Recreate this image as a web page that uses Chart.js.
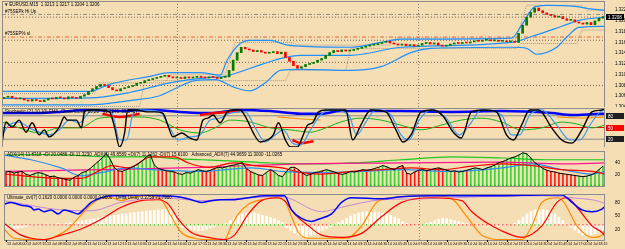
<!DOCTYPE html>
<html>
<head>
<meta charset="utf-8">
<script src="https://cdn.jsdelivr.net/npm/chart.js@4.4.1/dist/chart.umd.min.js"></script>
<style>
  html, body { margin: 0; padding: 0; background: #f5deb3; }
  #wrap { position: relative; width: 625px; height: 249px; overflow: hidden; background: #f5deb3; }
  canvas { position: absolute; left: 0; }
</style>
</head>
<body>
<div id="wrap">
  <canvas id="mainPane" width="625" height="107" style="top:0"></canvas>
  <canvas id="stochPane" width="625" height="40" style="top:107px"></canvas>
  <canvas id="adxPane" width="625" height="43" style="top:147px"></canvas>
  <canvas id="dviPane" width="625" height="59" style="top:190px"></canvas>
</div>
<script>
const wheat = "#f5deb3";
const xMin = -0.5;
const xMax = 149.5;
const sepIndexes = [43, 103];
const firstOpen = 1.3056;

const timeLabels = ["13 Jul 06:00", "13 Jul 07:15", "13 Jul 08:30", "13 Jul 09:45", "13 Jul 11:00", "13 Jul 12:15",
  "13 Jul 13:30", "13 Jul 14:45", "13 Jul 16:00", "13 Jul 17:15", "13 Jul 18:30", "13 Jul 19:45", "13 Jul 21:00",
  "13 Jul 22:15", "13 Jul 23:30", "14 Jul 00:45", "14 Jul 02:00", "14 Jul 03:15", "14 Jul 04:30", "14 Jul 05:45",
  "14 Jul 07:00", "14 Jul 08:15", "14 Jul 09:30", "14 Jul 10:45", "14 Jul 12:00", "14 Jul 13:15", "14 Jul 14:30",
  "14 Jul 15:45", "14 Jul 17:00", "14 Jul 18:15"];

const closes = [
  1.3058, 1.3060, 1.3057, 1.3055, 1.3056, 1.3053, 1.3051, 1.3054, 1.3052, 1.3050,
  1.3053, 1.3056, 1.3055, 1.3058, 1.3057, 1.3055, 1.3059, 1.3057, 1.3056, 1.3060,
  1.3063, 1.3069, 1.3074, 1.3078, 1.3082, 1.3080, 1.3076, 1.3072, 1.3070, 1.3074,
  1.3076, 1.3078, 1.3080, 1.3084, 1.3085, 1.3089, 1.3091, 1.3093, 1.3095, 1.3097,
  1.3099, 1.3096, 1.3094, 1.3095, 1.3093, 1.3096, 1.3094, 1.3095, 1.3097, 1.3095,
  1.3094, 1.3096, 1.3095, 1.3093, 1.3095, 1.3096, 1.3108, 1.3127, 1.3141, 1.3151,
  1.3148, 1.3146, 1.3143, 1.3145, 1.3142, 1.3140, 1.3141, 1.3143, 1.3139, 1.3142,
  1.3132, 1.3125, 1.3117, 1.3112, 1.3115, 1.3119, 1.3121, 1.3123, 1.3127, 1.3130,
  1.3136, 1.3141, 1.3145, 1.3143, 1.3146, 1.3144, 1.3145, 1.3147, 1.3149, 1.3151,
  1.3153, 1.3155, 1.3156, 1.3158, 1.3160, 1.3162, 1.3159, 1.3157, 1.3155, 1.3157,
  1.3154, 1.3156, 1.3153, 1.3155, 1.3158, 1.3160, 1.3157, 1.3159, 1.3155, 1.3153,
  1.3154, 1.3157, 1.3159, 1.3158, 1.3160, 1.3159, 1.3161, 1.3163, 1.3162, 1.3164,
  1.3165, 1.3163, 1.3164, 1.3162, 1.3163, 1.3161, 1.3162, 1.3160, 1.3177, 1.3192,
  1.3207, 1.3216, 1.3224, 1.3219, 1.3215, 1.3212, 1.3210, 1.3207, 1.3208, 1.3204,
  1.3201, 1.3202, 1.3198, 1.3196, 1.3194, 1.3197, 1.3193, 1.3200, 1.3205, 1.3208
];

const bandUpper = [[-0.5, 1.3069], [21.25, 1.3069], [26.25, 1.3082], [36.25, 1.3097], [41.25, 1.3104], [48.75, 1.3104],
  [53.75, 1.3099], [55.5, 1.3127], [58.75, 1.3158], [61.25, 1.3164], [66.25, 1.3164], [70, 1.3156], [73.75, 1.3153],
  [86.25, 1.3151], [93.75, 1.3160], [98.75, 1.3166], [126.25, 1.3168], [128.75, 1.3192], [132, 1.3226], [135, 1.3229],
  [142, 1.3227], [146.25, 1.3222], [149.5, 1.3220]];
const bandMiddle = [[-0.5, 1.3056], [21.25, 1.3057], [31.25, 1.3067], [41.25, 1.3085], [51.25, 1.3095], [55, 1.3097],
  [61.25, 1.3112], [68.75, 1.3130], [73.75, 1.3136], [86.25, 1.3136], [98.75, 1.3151], [126.25, 1.3160],
  [131.25, 1.3171], [138.75, 1.3190], [143, 1.3201], [149.5, 1.3207]];
const bandLower = [[-0.5, 1.3044], [21.25, 1.3044], [31.25, 1.3052], [38.75, 1.3061], [42.5, 1.3074], [47.5, 1.3089],
  [52.5, 1.3091], [57.5, 1.3076], [61.25, 1.3070], [65, 1.3085], [68.75, 1.3108], [73.75, 1.3110], [86.25, 1.3108],
  [93.75, 1.3115], [101.25, 1.3141], [106.25, 1.3149], [126.25, 1.3151], [130, 1.3149], [132.5, 1.3138],
  [137.5, 1.3151], [140, 1.3170], [143, 1.3188], [149.5, 1.3190]];
const envUpper = [[-0.5, 1.3065], [22.5, 1.3065], [23.75, 1.3085], [40, 1.3085], [41.25, 1.3100], [55, 1.3100],
  [57.5, 1.3160], [71.25, 1.3160], [73.75, 1.3155], [96.25, 1.3155], [97.5, 1.3168], [127.5, 1.3168], [130, 1.3229],
  [143.75, 1.3229], [145, 1.3220], [149.5, 1.3220]];
const envLower = [[-0.5, 1.3041], [33.75, 1.3041], [35, 1.3089], [70, 1.3089], [71.25, 1.3108], [85, 1.3108],
  [86.25, 1.3149], [127.5, 1.3149], [128.75, 1.3158], [142.5, 1.3158], [143.75, 1.3183], [149.5, 1.3183]];
const priceGrid = [1.3207, 1.3164, 1.3123, 1.3080];
const levelHigh = 1.3212;
const levelLow = 1.3170;

const stochMain = [[-0.5, 10], [0.5, 64], [2, 51], [3.75, 69], [5.5, 38], [7, 62], [8.75, 31], [10, 44], [11.25, 26],
  [13.75, 51], [15, 77], [15.75, 69], [18, 69], [19.25, 49], [20, 90], [20.75, 95], [23.75, 95], [26.25, 90],
  [27.5, 51], [28.75, 0], [30, 36], [30.75, 95], [33, 95], [35.5, 90], [37.5, 90], [39.5, 87], [40.75, 56], [42, 26],
  [44.25, 36], [46.25, 23], [48, 18], [49.5, 69], [50.75, 74], [52, 82], [53.75, 62], [55.5, 90], [57, 95],
  [58.75, 95], [60.5, 69], [62, 36], [63.75, 13], [65.5, 18], [67, 31], [68.25, 62], [70, 18], [71.25, 0], [73, 0],
  [74.25, 26], [75.5, 56], [76.75, 62], [78.25, 90], [80, 95], [85, 95], [86.75, 18], [88.75, 56], [91.25, 95],
  [95, 90], [97.5, 44], [99.25, 13], [101.25, 31], [103.75, 90], [106.75, 95], [109.25, 79], [111.75, 38],
  [113.75, 23], [116.25, 90], [119.25, 95], [122.5, 90], [125, 31], [126.75, 18], [128.75, 56], [130.75, 95],
  [133, 95], [136.25, 49], [138.75, 18], [141.25, 10], [143.75, 44], [146.25, 90], [148.75, 95], [149.5, 100]];
const stochSignal = [[-0.5, 31], [1.25, 56], [3.75, 64], [6.25, 49], [8.75, 38], [11.25, 31], [13.75, 44], [16.25, 69],
  [18.75, 62], [21.25, 90], [23.75, 95], [26.75, 90], [28.75, 18], [30.5, 18], [32, 82], [33.75, 95], [38.75, 90],
  [41.25, 49], [43.25, 18], [46.25, 26], [48.75, 31], [51.25, 69], [53.75, 74], [56.25, 87], [60, 90], [62.5, 49],
  [65, 13], [67.5, 31], [69.5, 44], [71.75, 10], [73.75, 5], [76.25, 44], [78.75, 82], [81.25, 95], [85.75, 82],
  [87.75, 31], [90, 64], [92.5, 95], [96.25, 82], [98.75, 31], [100.75, 18], [103.25, 69], [106.25, 95], [110, 74],
  [113.25, 31], [115.75, 56], [118.75, 95], [123.75, 82], [126.25, 31], [128.25, 31], [130.75, 82], [133.75, 95],
  [137.5, 56], [140.75, 18], [143.25, 18], [145.75, 56], [148.25, 90], [149.5, 95]];
const stochTrend = [[-0.5, 87], [6.25, 87], [13.75, 90], [21.25, 95], [28.75, 92], [36.25, 95], [43.75, 90], [51.25, 87],
  [58.75, 95], [66.25, 92], [71.25, 87], [73.75, 85], [78.75, 85], [83.75, 92], [98.75, 92], [111.25, 90],
  [123.75, 92], [136.25, 87], [141.25, 82], [148.75, 85], [149.5, 85]];
const stochTrendDown = [[24.5, 85], [28.75, 77], [33.75, 85], [34, null], [48.75, 82], [52.5, 87], [58.75, 92],
  [59, null], [71.75, 18], [73.75, 10], [77, 15]];
const stochSlow = [[-0.5, 64], [3.75, 49], [8.75, 36], [13.75, 49], [18.75, 49], [23.75, 74], [28.75, 77], [33.75, 77],
  [38.75, 69], [43.75, 44], [48.75, 36], [52.5, 49], [56.25, 69], [61.25, 64], [66.25, 49], [71.25, 44], [76.25, 38],
  [78.75, 44], [83.75, 64], [88.75, 74], [93.75, 69], [98.75, 56], [103.75, 44], [108.75, 56], [113.75, 69],
  [118.75, 74], [123.75, 64], [128.75, 44], [133.75, 49], [138.75, 64], [142.5, 59], [146.25, 49], [149.5, 56]];
const stochAvg = [[68, 77], [73.75, 72], [78.75, 69], [80, null], [137.5, 77], [143.75, 74], [149.5, 77]];
const stochLevels = [80, 50, 20];

const adxHist = [
  24, 25, 22, 24, 25, 20, 18, 21, 23, 22, 19, 16, 17, 14, 13, 11, 10, 15, 18, 23,
  25, 30, 36, 42, 48, 56, 46, 32, 26, 25, 28, 31, 34, 38, 43, 50, 54, 36, 30, 28,
  26, 25, 24, 21, 20, 23, 22, 25, 28, 26, 25, 27, 30, 32, 31, 33, 35, 36, 38, 40,
  30, 25, 22, 19, 18, 23, 28, 24, 18, 16, 25, 32, 32, 28, 22, 18, 20, 23, 24, 26,
  28, 26, 24, 21, 20, 22, 25, 24, 26, 28, 27, 28, 30, 32, 35, 33, 30, 28, 33, 35,
  22, 20, 24, 27, 28, 26, 28, 30, 31, 29, 27, 25, 26, 24, 25, 27, 29, 31, 30, 28,
  31, 33, 36, 40, 42, 45, 48, 50, 53, 57, 55, 48, 40, 35, 30, 27, 25, 24, 22, 21,
  20, 19, 18, 17, 16, 17, 19, 22, 28, 34
];
const adxColors = ["rrgrrgg", "ggg", "rrgrrrgrr", "gggggggg", "rrr", "gggggggg", "rrrgr", "gggggg", "rrrr",
  "ggggggg", "rrgrrgr", "ggggg", "rrr", "grggr", "gggrggggggrgggggggg", "rrrrr", "grggrrggrggr",
  "ggggggggggggg", "gggggg", "rrrrrrrr", "ggggggg"].join("");
const adxPlus = [[-0.5, 53], [7, 54], [15.5, 53], [26.25, 50], [36.25, 50], [42, 47], [48.75, 45], [57, 42.5],
  [65.5, 39.5], [73.75, 38], [78.75, 38], [86.25, 39.5], [98.75, 45], [111.25, 50], [123.75, 48], [136.25, 45],
  [149.5, 45]];
const adxLine = [[-0.5, 25], [23.75, 28], [48.75, 32], [73.75, 38], [98.75, 39.5], [123.75, 41], [138.75, 38],
  [149.5, 39.5]];
const adxMinus = [[-0.5, 20.5], [6.25, 16], [13.75, 13], [18.75, 13], [23.75, 28], [26.25, 35], [30.5, 31], [36.25, 50],
  [42, 50], [45.5, 39.5], [50.5, 32], [57, 39.5], [62, 35], [68.75, 31], [73.75, 23], [78.75, 20.5], [86.25, 25],
  [93.75, 28], [101.25, 31], [108.75, 28], [116.25, 34], [123.75, 38], [131.25, 35], [138.75, 28], [146.25, 25],
  [149.5, 20.5]];
const adxFast = [[-0.5, 53], [6.25, 45], [13.75, 31], [18.75, 17.5], [23.75, 23], [30.5, 31], [36.25, 28], [48.75, 25],
  [61.25, 31], [68.75, 25], [78.75, 23], [88.75, 25], [98.75, 28], [111.25, 25], [123.75, 31], [131.25, 38],
  [138.75, 28], [146.25, 20.5], [149.5, 25]];

const dviZero = 30;
const dviHist = [
  25, 23, 21, 22, 24, 26, 28, 31, 29, 30, 32, 31, 30, 33, 32, 34, 35, 36, 37, 39,
  41, 43, 44, 46, 48, 49, 50, 52, 53, 55, 56, 57, 58, 59, 60, 61, 62, 63, 64, 65,
  66, 62, 55, 28, 25, 22, 20, 18, 17, 18, 20, 23, 26, 29, 31, 33, 40, 46, 52, 55,
  57, 58, 57, 55, 52, 50, 47, 44, 40, 36, 24, 18, 12, 8, 5, 4, 6, 9, 13, 18,
  22, 26, 32, 36, 40, 45, 50, 54, 57, 59, 60, 60, 59, 58, 56, 55, 52, 48, 44, 38,
  34, 30, 28, 27, 30, 33, 36, 40, 43, 45, 44, 42, 40, 38, 35, 33, 31, 30, 29, 28,
  27, 27, 26, 27, 28, 29, 30, 34, 40, 48, 55, 60, 64, 66, 65, 63, 60, 55, 48, 40,
  32, 25, 18, 12, 8, 6, 7, 10, 14, 18
];
const dviZeroColors = ["gg", "rrrrrrrrrrrrrrrrrrrr", "gggggggggggggggggggggggggggggggggggggggggggggggg", "rrrrrrrrrrr",
  "gggggggggggggggggg", "rrrrr", "ggggggggg", "rrrrrrrrrrrrrrr", "ggggggggg", "rrrrrrrrrrrrr"].join("");
const dviBlue = [[-0.5, 77], [1.25, 81], [3.75, 74.5], [6.25, 70], [7, 64], [8, 66], [9.5, 60], [11.25, 64], [13, 55],
  [14.5, 64], [16.25, 60], [18, 55], [19.5, 66], [21.25, 81], [23.75, 91.5], [26.25, 96], [29.5, 96], [33.75, 98],
  [38, 96], [43, 94], [46.25, 87], [48.75, 81], [51.25, 85], [53.75, 87], [57, 87], [60.5, 91.5], [64.5, 96],
  [69.5, 96], [71.25, 64], [73.75, 45], [76.25, 38], [78, 43], [81.25, 55], [83.75, 81], [86.25, 91.5], [93.75, 89],
  [98.75, 94], [106.25, 96], [113.75, 96], [123.75, 96], [133.75, 98], [138.75, 98], [141.25, 81], [143.75, 64],
  [146.25, 60], [148.75, 66], [149.5, 72]];
const dviPurple = [[-0.5, 85], [13.75, 64], [21.25, 62], [28.75, 81], [38.75, 91.5], [48.75, 85], [56.25, 89],
  [68.75, 94], [78.75, 60], [83.75, 70], [93.75, 87], [103.75, 89], [118.75, 94], [133.75, 96], [141.25, 91.5],
  [148.75, 81], [149.5, 77]];
const dviRed = [[-0.5, 34], [3.75, 7], [6.25, 0], [9.5, -3], [13.75, 7], [18.75, 21], [23.75, 43], [28.75, 70],
  [33.75, 85], [38, 87], [40.5, 77], [43, 43], [46.25, 13], [50.5, 2], [54.5, -3], [57, 7], [60.5, 55], [63.75, 85],
  [68, 91.5], [69.5, 85], [72, 55], [75.5, 28], [78.75, 7], [83.75, 2], [88.75, 11], [93.75, 49], [98.75, 81],
  [106.25, 91.5], [113.75, 85], [116.25, 60], [121.25, 28], [126.25, 7], [128.75, 2], [133.75, 28], [137.5, 81],
  [140, 91.5], [142.5, 70], [146.25, 28], [148.75, 13], [149.5, 4.5]];
const dviOrange = [[-0.5, 21], [2, 0], [6.25, -3], [10, -3], [13, 7], [15.5, 21], [18, 45], [20.5, 70], [23, 87],
  [26.25, 91.5], [28.75, 85], [31.25, 91.5], [35.5, 96], [38.75, 87], [41.25, 49], [43.75, 13], [47, 0], [50.5, -3],
  [54.5, -3], [56.25, 28], [58, 55], [60.5, 77], [63.75, 87], [67, 91.5], [69.5, 85], [71.25, 49], [73, 13],
  [75.5, 0], [78.75, 0], [85, 0], [88.75, 28], [92.5, 81], [96.25, 91.5], [106.25, 96], [111.25, 89], [115, 49],
  [118.75, 7], [123.75, -3], [128.75, -3], [131.25, 28], [133.75, 81], [137.5, 91.5], [139.25, 81], [142.5, 28],
  [146.25, 2], [148.75, 7], [149.5, 21]];

Chart.defaults.font.family = "'Liberation Sans', Arial, sans-serif";
Chart.defaults.color = "#000";

function pts(pairs) {
  return pairs.map(([x, y]) => ({ x, y }));
}

function lineSet(pairs, color, width, extra) {
  return Object.assign({
    type: "line",
    data: pts(pairs),
    borderColor: color,
    borderWidth: width,
    pointRadius: 0,
    fill: false,
    cubicInterpolationMode: "monotone",
    spanGaps: false,
    order: 2
  }, extra || {});
}

function levelSet(value, color, dash, width) {
  return lineSet([[xMin, value], [xMax, value]], color, width || 1, { borderDash: dash || [], order: 9 });
}

const paneFrame = {
  id: "paneFrame",
  beforeDraw(chart) {
    const ctx = chart.ctx;
    ctx.save();
    ctx.fillStyle = wheat;
    ctx.fillRect(0, 0, chart.width, chart.height);
    ctx.restore();
  },
  beforeDatasetsDraw(chart) {
    const { ctx, chartArea: a, scales } = chart;
    ctx.save();
    ctx.strokeStyle = "#8a7f6e";
    ctx.lineWidth = 1;
    ctx.setLineDash([1, 2]);
    sepIndexes.forEach((i) => {
      const x = Math.round(scales.x.getPixelForValue(i)) + 0.5;
      ctx.beginPath();
      ctx.moveTo(x, a.top);
      ctx.lineTo(x, a.bottom);
      ctx.stroke();
    });
    ctx.restore();
  },
  afterDraw(chart, args, opts) {
    const { ctx, chartArea: a, scales } = chart;
    ctx.save();
    ctx.strokeStyle = "#8c8c8c";
    ctx.lineWidth = 1;
    ctx.strokeRect(a.left + 0.5, a.top + 0.5, a.right - a.left - 1, a.bottom - a.top);
    ctx.font = "4.5px 'Liberation Sans', Arial, sans-serif";
    ctx.textBaseline = "middle";
    (opts.notes || []).forEach((n) => {
      ctx.fillStyle = n.color || "#000";
      ctx.fillText(n.text, a.left + 3, n.value === undefined ? a.top + 4 : scales.y.getPixelForValue(n.value) - 3);
    });
    (opts.boxes || []).forEach((b) => {
      const y = Math.round(scales.y.getPixelForValue(b.value));
      ctx.fillStyle = b.bg;
      ctx.fillRect(a.right + 1, y - 3, 18, 6);
      ctx.fillStyle = b.fg;
      ctx.fillText(b.text, a.right + 3, y + 0.5);
    });
    if (opts.timeAxis) {
      ctx.fillStyle = "#000";
      ctx.textBaseline = "top";
      ctx.font = "3.6px 'Liberation Sans', Arial, sans-serif";
      timeLabels.forEach((t, i) => {
        const x = scales.x.getPixelForValue(i * 5);
        ctx.fillRect(Math.round(x), a.bottom, 1, 2);
        ctx.fillText(t, x + 1, a.bottom + 2.5);
      });
    }
    ctx.restore();
  }
};

function yAxis(min, max, extra) {
  return Object.assign({
    position: "right",
    min,
    max,
    grid: { display: false },
    border: { display: false },
    ticks: { font: { size: 4.5, lineHeight: 1 }, color: "#000", padding: 2 },
    afterFit(s) {
      s.width = 20;
      s.paddingTop = 0;
      s.paddingBottom = 0;
    }
  }, extra || {});
}

function xAxis() {
  return {
    type: "linear",
    min: xMin,
    max: xMax,
    offset: false,
    display: false,
    grid: { display: false, offset: false }
  };
}

function baseOptions(scales, padding, paneOpts) {
  return {
    responsive: false,
    animation: false,
    devicePixelRatio: 1,
    layout: { padding },
    scales,
    plugins: {
      legend: { display: false },
      tooltip: { enabled: false },
      paneFrame: paneOpts
    }
  };
}

function fixedTicks(values) {
  return (s) => {
    s.ticks = values.map((v) => ({ value: v }));
  };
}

const opens = closes.map((c, i) => (i === 0 ? firstOpen : closes[i - 1]));
const candleColors = closes.map((c, i) => (c >= opens[i] ? "#007a00" : "#ff0000"));
const lastClose = closes[closes.length - 1];

new Chart(document.getElementById("mainPane"), {
  type: "bar",
  data: {
    datasets: [
      {
        type: "bar",
        data: closes.map((c, i) => ({ x: i, y: [opens[i], c] })),
        backgroundColor: candleColors,
        barThickness: 2,
        minBarLength: 1,
        grouped: false,
        order: 1
      },
      lineSet(bandUpper, "#1e90ff", 1.2),
      lineSet(bandMiddle, "#1e90ff", 1.2),
      lineSet(bandLower, "#1e90ff", 1.2),
      lineSet(envUpper, "#a49a8c", 1, { borderDash: [1, 1], cubicInterpolationMode: "default", tension: 0, order: 3 }),
      lineSet(envLower, "#a49a8c", 1, { borderDash: [1, 1], cubicInterpolationMode: "default", tension: 0, order: 3 }),
      levelSet(levelHigh, "#8f8f8f", [4, 2, 1, 2]),
      levelSet(levelLow, "#e8603c", [4, 2, 1, 2]),
      ...priceGrid.map((v) => levelSet(v, "#6f6453", [1, 2]))
    ]
  },
  options: baseOptions({
    x: xAxis(),
    y: yAxis(1.3040, 1.3237, {
      ticks: {
        font: { size: 4.5, lineHeight: 1 },
        color: "#000",
        padding: 2,
        stepSize: 0.002,
        includeBounds: false,
        callback: (v) => v.toFixed(4)
      }
    })
  }, { left: 2, top: 1, right: 0, bottom: 0 }, {
    notes: [
      { text: "\u25BE EURUSD,M15  1.3213 1.3217 1.3204 1.3206" },
      { text: "#75SEPk Hi Up", value: levelHigh },
      { text: "#75SEP% sl", value: levelLow, color: "#000" }
    ],
    boxes: [{ value: lastClose, bg: "#000", fg: "#fff", text: lastClose.toFixed(4) }]
  }),
  plugins: [paneFrame]
});

new Chart(document.getElementById("stochPane"), {
  type: "line",
  data: {
    datasets: [
      lineSet(stochMain, "#000000", 1.4, { order: 1 }),
      lineSet(stochSignal, "#3f9cf0", 1.2, { order: 2 }),
      lineSet(stochTrendDown, "#ff0000", 2.5, { order: 3 }),
      lineSet(stochTrend, "#0000ff", 2.5, { order: 4 }),
      lineSet(stochSlow, "#1fb01f", 1, { order: 5 }),
      lineSet(stochAvg, "#ff8c00", 1, { order: 5 }),
      levelSet(stochLevels[0], "#8c8c8c"),
      levelSet(stochLevels[1], "#ff0000"),
      levelSet(stochLevels[2], "#8c8c8c")
    ]
  },
  options: baseOptions({
    x: xAxis(),
    y: yAxis(0, 100, { afterBuildTicks: fixedTicks([]) })
  }, { left: 2, top: 1, right: 0, bottom: 0 }, {
    notes: [{ text: "Stochastic (21,10,10) EMA, Close/Close, 80,20   41.1246  89.3417" }],
    boxes: [
      { value: 80, bg: "#202020", fg: "#fff", text: "80" },
      { value: 50, bg: "#ff0000", fg: "#fff", text: "50" },
      { value: 20, bg: "#202020", fg: "#fff", text: "20" }
    ]
  }),
  plugins: [paneFrame]
});

new Chart(document.getElementById("adxPane"), {
  type: "bar",
  data: {
    datasets: [
      lineSet(adxHist.map((v, i) => [i, v]), "#000000", 1, { cubicInterpolationMode: "default", tension: 0, order: 1 }),
      {
        type: "line",
        data: adxColors.split("").map((c, i) => ({ x: i, y: 1.2 })),
        showLine: false,
        pointStyle: "rect",
        pointRadius: 1,
        pointBorderWidth: 0,
        pointBackgroundColor: adxColors.split("").map((c) => (c === "g" ? "#14c814" : "#ff0000")),
        order: 1
      },
      lineSet(adxMinus, "#ff0000", 1.2, { order: 2 }),
      lineSet(adxFast, "#2f8ff0", 1.2, { order: 2 }),
      lineSet(adxLine, "#ff1493", 1.2, { order: 3 }),
      lineSet(adxPlus, "#1ec81e", 1.2, { order: 3 }),
      {
        type: "bar",
        data: adxHist.map((v, i) => ({ x: i, y: v })),
        backgroundColor: adxColors.split("").map((c) => (c === "g" ? "#3cd23c" : "#ff1a1a")),
        barThickness: 1,
        grouped: false,
        order: 6
      }
    ]
  },
  options: baseOptions({
    x: xAxis(),
    y: yAxis(0, 60, { afterBuildTicks: fixedTicks([20, 40]) })
  }, { left: 2, top: 1, right: 0, bottom: 1 }, {
    notes: [{ text: "ADX(14) 11.8318 +DI 20.0486 -DI 11.3230  ADX(7) 49.8589 +DI(7) 11.1262 -DI(7) 15.6100   Advanced_ADX(7) 44.9659 11.3000 -11.0265" }]
  }),
  plugins: [paneFrame]
});

new Chart(document.getElementById("dviPane"), {
  type: "bar",
  data: {
    datasets: [
      lineSet(dviBlue, "#0000ff", 1.5, { order: 1 }),
      lineSet(dviRed, "#ff0000", 1.2, { order: 2 }),
      lineSet(dviOrange, "#ff8c00", 1.2, { order: 2 }),
      lineSet(dviPurple, "#c48ad8", 1, { order: 3 }),
      {
        type: "line",
        data: dviZeroColors.split("").map((c, i) => ({ x: i, y: dviZero })),
        showLine: false,
        pointStyle: "rect",
        pointRadius: 0.9,
        pointBorderWidth: 0,
        pointBackgroundColor: dviZeroColors.split("").map((c) => (c === "g" ? "#12c012" : "#ff2020")),
        order: 4
      },
      {
        type: "bar",
        data: dviHist.map((v, i) => ({ x: i, y: [dviZero, v] })),
        backgroundColor: "#ffffff",
        barThickness: 2,
        grouped: false,
        order: 6
      }
    ]
  },
  options: baseOptions({
    x: xAxis(),
    y: yAxis(-4, 100, { afterBuildTicks: fixedTicks([20, 50, 80]) })
  }, { left: 2, top: 1, right: 0, bottom: 9 }, {
    notes: [{ text: "Ultimate_dvi(7) 0.1620 0.0000 0.0000 0.0000 0.0000   Delta Delay 0.3759 71.7900" }],
    timeAxis: true
  }),
  plugins: [paneFrame]
});
</script>
</body>
</html>
